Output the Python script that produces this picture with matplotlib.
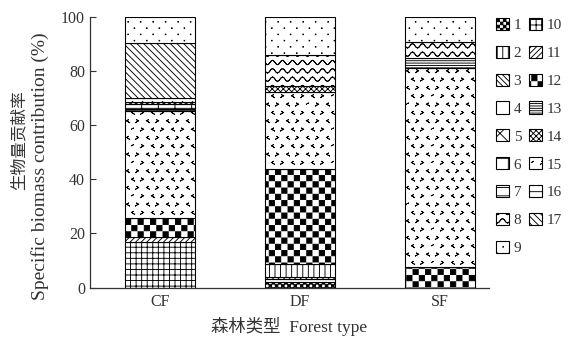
import warnings
warnings.filterwarnings('ignore')
import numpy as np
import matplotlib
matplotlib.use('Agg')
import matplotlib.pyplot as plt
import matplotlib.hatch as mhatch
from matplotlib.path import Path
from matplotlib.patches import Patch

# ---------------- data ----------------
forests = ['CF', 'DF', 'SF']
species = [str(i) for i in range(1, 18)]
# contribution (%) of species 1..17
cf_vals = [0, 0, 0, 0, 0, 1.7, 0, 1.5, 9.7, 16.8, 1.9, 7.0, 0.8, 0.7, 39.6, 0, 20.3]
df_vals = [1.9, 4.8, 1.0, 0, 0, 0, 1.1, 11.4, 14.0, 0, 0, 34.9, 0, 2.5, 28.4, 0, 0]
sf_vals = [0, 0, 0, 0, 0, 0, 0, 5.8, 9.4, 0, 0, 7.7, 3.7, 0, 73.4, 0, 0]
stack_order = [1, 7, 3, 2, 10, 11, 12, 15, 13, 6, 14, 8, 17, 9, 4, 5, 16]
y_ticks = [0, 20, 40, 60, 80, 100]

# ---------------- custom hatch patterns ----------------
class _Checker(mhatch.HatchPatternBase):
    def __init__(self, hatch, density):
        k = hatch.count('#')
        self.n = 16 * k
        self.cells = ([(i, j) for i in range(self.n) for j in range(self.n)
                       if (i + j) % 2 == 0] if k else [])
        self.num_vertices = 5 * len(self.cells)

    def set_vertices_and_codes(self, vertices, codes):
        s = 1.0 / self.n
        d = s * 0.08
        for m, (i, j) in enumerate(self.cells):
            x0, y0 = i * s + d, j * s + d
            x1, y1 = (i + 1) * s - d, (j + 1) * s - d
            vertices[5 * m:5 * m + 5] = [(x0, y0), (x1, y0), (x1, y1), (x0, y1), (x0, y0)]
            codes[5 * m:5 * m + 5] = [Path.MOVETO, Path.LINETO, Path.LINETO,
                                      Path.LINETO, Path.CLOSEPOLY]


class _Dots(mhatch.HatchPatternBase):
    def __init__(self, hatch, density):
        k = hatch.count('d')
        self.cols = 8 * k
        self.rows = 16 * k
        self.num_vertices = 5 * self.cols * self.rows if k else 0

    def set_vertices_and_codes(self, vertices, codes):
        dx = 1.0 / self.cols
        dy = 1.0 / self.rows
        s = 0.003
        m = 0
        for r in range(self.rows):
            for c in range(self.cols):
                cx = (c + 0.25 + 0.5 * (r % 2)) * dx
                cy = (r + 0.5) * dy
                vertices[m:m + 5] = [(cx - s, cy - s), (cx + s, cy - s), (cx + s, cy + s),
                                     (cx - s, cy + s), (cx - s, cy - s)]
                codes[m:m + 5] = [Path.MOVETO, Path.LINETO, Path.LINETO,
                                  Path.LINETO, Path.CLOSEPOLY]
                m += 5


class _Wave(mhatch.HatchPatternBase):
    def __init__(self, hatch, density):
        k = hatch.count('~')
        self.rows = 12 * k
        self.per = 10 * k
        self.npts = self.per * 8 + 1
        self.num_vertices = (2 * self.npts) * self.rows if k else 0

    def set_vertices_and_codes(self, vertices, codes):
        x = np.linspace(0, 1, self.npts)
        amp = 0.022
        m = 0
        for r in range(self.rows):
            y = (r + 0.5) / self.rows + amp * np.sin(2 * np.pi * self.per * x)
            pts = np.column_stack([x, y])
            pts = np.vstack([pts, pts[::-1]])
            n = len(pts)
            vertices[m:m + n] = pts
            codes[m:m + n] = Path.LINETO
            codes[m] = Path.MOVETO
            m += n


class _Chevron(mhatch.HatchPatternBase):
    def __init__(self, hatch, density):
        k = hatch.count('v')
        self.cols = 10 * k
        self.rows = 12 * k
        self.num_vertices = 5 * self.cols * self.rows if k else 0

    def set_vertices_and_codes(self, vertices, codes):
        dx = 1.0 / self.cols
        dy = 1.0 / self.rows
        w = 0.009
        h = 0.011
        m = 0
        for r in range(self.rows):
            for c in range(self.cols):
                cx = (c + 0.25 + 0.5 * (r % 2)) * dx
                cy = (r + 0.5) * dy
                sgn = 1 if (c + r) % 2 == 0 else -1
                p0 = (cx - sgn * w, cy + h)
                p1 = (cx + sgn * w, cy)
                p2 = (cx - sgn * w, cy - h)
                vertices[m:m + 5] = [p0, p1, p2, p1, p0]
                codes[m:m + 5] = [Path.MOVETO, Path.LINETO, Path.LINETO,
                                  Path.LINETO, Path.LINETO]
                m += 5


mhatch._hatch_types.extend([_Checker, _Dots, _Wave, _Chevron])

hatches = {
    1: '##', 2: '|||', 3: '\\\\\\\\\\\\', 4: '.', 5: 'x', 6: '+', 7: '--',
    8: '~', 9: 'd', 10: '+++', 11: '//////', 12: '#', 13: '-------',
    14: 'xxxxxx', 15: 'v', 16: '-', 17: '\\\\\\\\\\',
}

# ---------------- figure ----------------
plt.rcParams['font.family'] = ['Liberation Serif', 'Noto Sans CJK SC']
plt.rcParams['hatch.linewidth'] = 0.65
plt.rcParams['hatch.color'] = 'black'
txt_color = '#333333'

fig = plt.figure(figsize=(5.72, 3.41), dpi=100)
ax = fig.add_axes([90 / 572, 53.5 / 341, 399 / 572, 270.5 / 341])

all_vals = {'CF': cf_vals, 'DF': df_vals, 'SF': sf_vals}
xpos = np.arange(len(forests))
for xi, f in zip(xpos, forests):
    vals = all_vals[f]
    bottom = 0.0
    for sp in stack_order:
        v = vals[sp - 1]
        if v <= 0:
            continue
        ax.bar(xi, v, width=0.5, bottom=bottom, color='white',
               edgecolor='black', linewidth=0.8, hatch=hatches[sp])
        bottom += v

ax.set_xlim(-0.5, 2.35)
ax.set_ylim(0, 100)
ax.set_yticks(y_ticks)
ax.set_xticks(xpos)
ax.set_xticklabels(forests, fontsize=11.5)
ax.tick_params(axis='y', labelsize=11.5, direction='in', length=4, width=0.8,
               colors=txt_color)
ax.tick_params(axis='x', length=0, pad=5, colors=txt_color)
for s in ['top', 'right']:
    ax.spines[s].set_visible(False)
for s in ['left', 'bottom']:
    ax.spines[s].set_linewidth(0.9)
    ax.spines[s].set_color(txt_color)

ax.set_xlabel('森林类型  Forest type', fontsize=12.5, labelpad=5, color=txt_color)
fig.text(20 / 572, 1 - 140 / 341, '生物量贡献率', rotation=90, ha='center',
         va='center', fontsize=12, color=txt_color)
fig.text(40 / 572, 1 - 166 / 341, 'Specific biomass contribution (%)', rotation=90,
         ha='center', va='center', fontsize=14, color=txt_color)

handles = [Patch(facecolor='white', edgecolor='black', linewidth=0.8,
                 hatch=hatches[int(s)]) for s in species]
fig.legend(handles, species, loc='upper left', bbox_to_anchor=(496 / 572, 1 - 18 / 341),
           ncol=2, frameon=False, fontsize=11, handlelength=0.85, handleheight=0.85,
           labelspacing=0.88, handletextpad=0.3, columnspacing=0.5, borderpad=0,
           borderaxespad=0, labelcolor=txt_color)

fig.savefig('out.png', dpi=100)
